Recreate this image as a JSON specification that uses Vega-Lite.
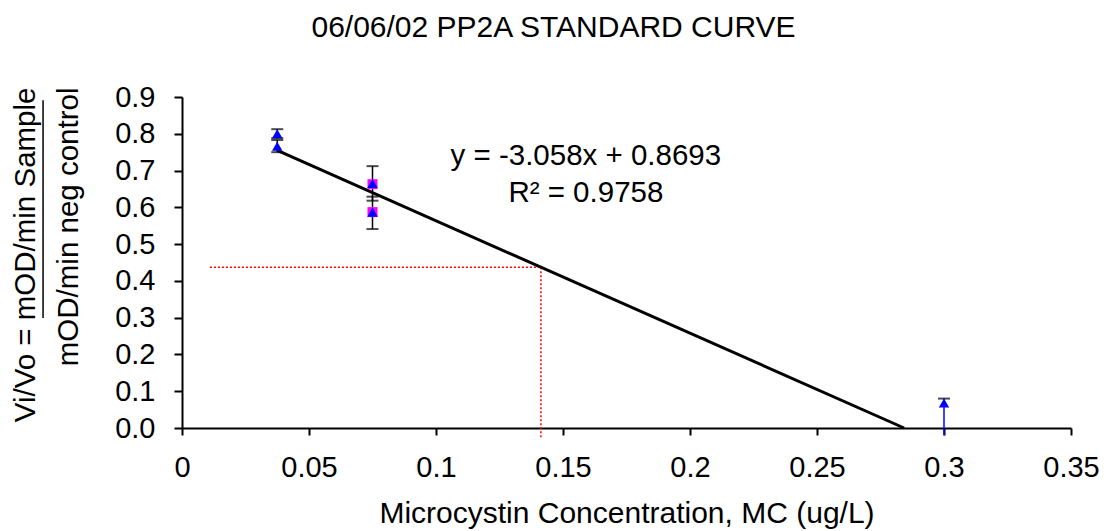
{
  "$schema": "https://vega.github.io/schema/vega-lite/v6.json",
  "width": 889,
  "height": 331,
  "autosize": "none",
  "padding": {"left": 182, "top": 97, "right": 33, "bottom": 103},
  "background": "white",
  "config": {
    "font": "Liberation Sans",
    "view": {"stroke": null},
    "axis": {"grid": false}
  },
  "title": {
    "text": "06/06/02 PP2A STANDARD CURVE",
    "fontSize": 30,
    "fontWeight": "normal",
    "color": "black",
    "anchor": "middle",
    "frame": "group",
    "dx": -73,
    "offset": 40
  },
  "datasets": {
    "pts": [
      {"x": 0.0375, "y": 0.800, "lo": 0.788, "hi": 0.8125},
      {"x": 0.0375, "y": 0.766, "lo": 0.750, "hi": 0.783},
      {"x": 0.075, "y": 0.665, "lo": 0.618, "hi": 0.712},
      {"x": 0.075, "y": 0.587, "lo": 0.541, "hi": 0.629},
      {"x": 0.3, "y": 0.068, "lo": -0.02, "hi": 0.08}
    ],
    "sq": [
      {"x": 0.075, "y": 0.663},
      {"x": 0.075, "y": 0.587}
    ],
    "fit": [
      {"x": 0.0375, "y": 0.7546},
      {"x": 0.2843, "y": 0.0}
    ],
    "guide": [
      {"x": 0.011, "x2": 0.1413, "y": 0.437, "y2": 0.437},
      {"x": 0.1413, "x2": 0.1413, "y": 0.437, "y2": -0.03}
    ],
    "eq": [
      {"x": 0.159, "y": 0.715, "label": "y = -3.058x + 0.8693"},
      {"x": 0.159, "y": 0.614, "label": "R² = 0.9758"}
    ],
    "frac": [
      {"x": -0.0547, "y": 0.891, "y2": 0.299}
    ]
  },
  "encoding": {
    "x": {
      "field": "x",
      "type": "quantitative",
      "scale": {"domain": [0, 0.35], "nice": false, "zero": false},
      "axis": {
        "values": [0, 0.05, 0.1, 0.15, 0.2, 0.25, 0.3, 0.35],
        "format": "~g",
        "title": "Microcystin Concentration, MC (ug/L)",
        "labelFontSize": 29,
        "titleFontSize": 30,
        "titleFontWeight": "normal",
        "labelColor": "black",
        "titleColor": "black",
        "domainColor": "black",
        "tickColor": "black",
        "domainWidth": 2,
        "tickWidth": 2,
        "tickSize": 7,
        "labelPadding": 18,
        "titlePadding": 16,
        "labelFlush": false,
        "labelOverlap": false
      }
    },
    "y": {
      "field": "y",
      "type": "quantitative",
      "scale": {"domain": [0, 0.9], "nice": false, "zero": false},
      "axis": {
        "values": [0, 0.1, 0.2, 0.3, 0.4, 0.5, 0.6, 0.7, 0.8, 0.9],
        "format": ".1f",
        "title": ["Vi/Vo = mOD/min Sample", "mOD/min neg control"],
        "labelFontSize": 29,
        "titleFontSize": 29.5,
        "titleFontWeight": "normal",
        "labelColor": "black",
        "titleColor": "black",
        "domainColor": "black",
        "tickColor": "black",
        "domainWidth": 2,
        "tickWidth": 2,
        "tickSize": 8,
        "labelPadding": 19,
        "labelOverlap": false,
        "labelFlush": false,
        "titleAngle": -90,
        "titleAlign": "right",
        "titleAnchor": "end",
        "titleBaseline": "alphabetic",
        "titleLineHeight": 43,
        "titleX": -148,
        "titleY": -10
      }
    }
  },
  "layer": [
    {
      "data": {"name": "guide"},
      "mark": {"type": "rule", "color": "#ff0000", "strokeWidth": 1.5, "strokeDash": [2, 2]},
      "encoding": {
        "x2": {"field": "x2"},
        "y2": {"field": "y2"}
      }
    },
    {
      "data": {"name": "pts"},
      "mark": {"type": "rule", "strokeWidth": 1.5},
      "encoding": {
        "y": {"field": "lo", "type": "quantitative"},
        "y2": {"field": "hi"},
        "color": {"condition": {"test": "datum.x > 0.2", "value": "#0000ff"}, "value": "black"}
      }
    },
    {
      "data": {"name": "pts"},
      "mark": {"type": "tick", "orient": "horizontal", "size": 12, "thickness": 2, "color": "black"},
      "encoding": {
        "y": {"field": "hi", "type": "quantitative"}
      }
    },
    {
      "data": {"name": "pts"},
      "transform": [{"filter": "datum.lo >= 0"}],
      "mark": {"type": "tick", "orient": "horizontal", "size": 12, "thickness": 2, "color": "black"},
      "encoding": {
        "y": {"field": "lo", "type": "quantitative"}
      }
    },
    {
      "data": {"name": "fit"},
      "mark": {"type": "line", "color": "black", "strokeWidth": 3},
      "encoding": {}
    },
    {
      "data": {"name": "sq"},
      "mark": {"type": "point", "shape": "square", "filled": true, "color": "#ff00ff", "size": 100, "opacity": 1},
      "encoding": {}
    },
    {
      "data": {"name": "pts"},
      "mark": {"type": "point", "shape": "triangle-up", "filled": true, "color": "#0000ff", "size": 110, "opacity": 1},
      "encoding": {}
    },
    {
      "data": {"name": "eq"},
      "mark": {"type": "text", "fontSize": 29.5, "color": "black", "align": "center", "baseline": "alphabetic"},
      "encoding": {
        "text": {"field": "label", "type": "nominal"}
      }
    },
    {
      "data": {"name": "frac"},
      "mark": {"type": "rule", "color": "black", "strokeWidth": 1.5},
      "encoding": {
        "y2": {"field": "y2"}
      }
    }
  ]
}
